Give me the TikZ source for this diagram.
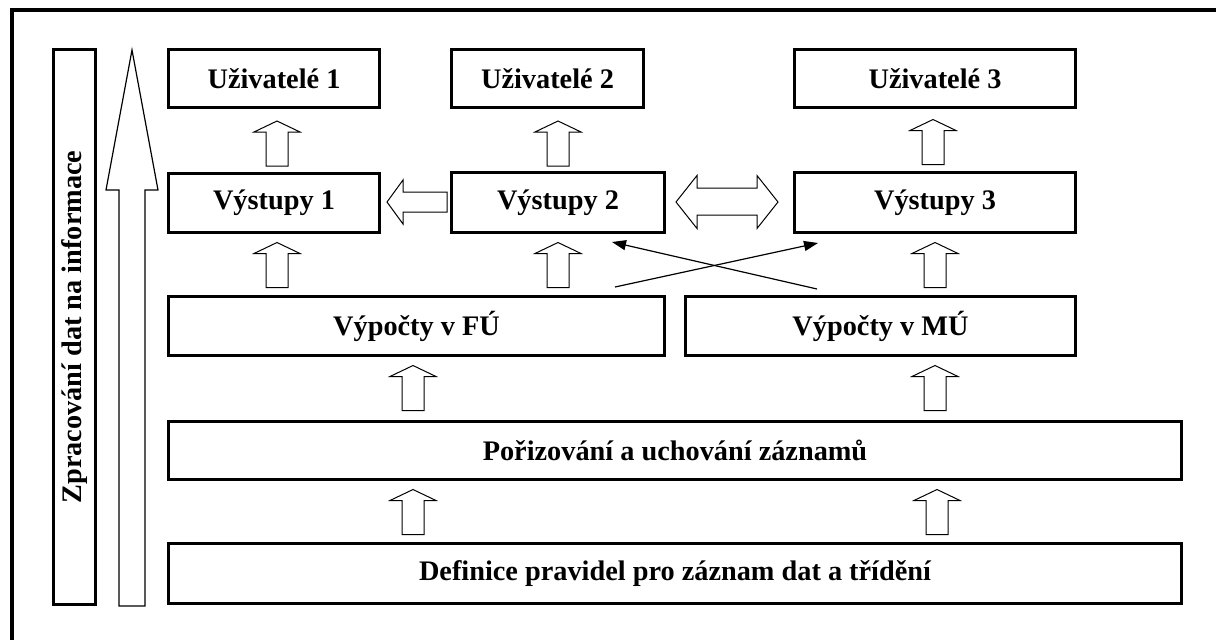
\documentclass[tikz,border=0pt]{standalone}
\usepackage{fontspec}
\setmainfont{Liberation Serif}
\usetikzlibrary{arrows.meta,calc}
\tikzset{
  box/.style={draw, line width=3pt, fill=white, inner sep=0pt,
    font=\bfseries\fontsize{28.3}{32}\selectfont},
  blk/.style={draw, line width=1pt, fill=white, line join=miter},
  link/.style={line width=1.2pt, -{Triangle[length=14pt,width=10pt]}},
  frame/.style={line width=4pt},
  pics/uparr/.style={code={
    \draw[blk] (0,-22.5) -- (23,-11.5) -- (11,-11.5) -- (11,22.5)
      -- (-11,22.5) -- (-11,-11.5) -- (-23,-11.5) -- cycle;}}
}
\begin{document}
\begin{tikzpicture}[x=1pt,y=-1pt]
\clip (0,0) rectangle (1216,640);
\fill[white] (0,0) rectangle (1216,640);
% outer frame (right and bottom sides lie outside the picture)
\draw[frame] (12,700) -- (12,10) -- (1300,10);

% boxes
\node[box, minimum width=211pt, minimum height=58pt] (U1) at (274,78.5) {Uživatelé 1};
\node[box, minimum width=192pt, minimum height=58pt] (U2) at (547.5,78.5) {Uživatelé 2};
\node[box, minimum width=281pt, minimum height=58pt] (U3) at (935,78.5) {Uživatelé 3};
\node[box, minimum width=211pt, minimum height=59pt] (V1) at (274,203) {Výstupy 1};
\node[box, minimum width=213pt, minimum height=60pt] (V2) at (558,202.5) {Výstupy 2};
\node[box, minimum width=281pt, minimum height=60pt] (V3) at (935,202.5) {Výstupy 3};
\node[box, minimum width=496pt, minimum height=59pt] (FU) at (416.5,326) {Výpočty v FÚ};
\node[box, minimum width=390pt, minimum height=59pt] (MU) at (880.5,326) {Výpočty v MÚ};
\node[box, minimum width=1013pt, minimum height=58pt] (P) at (675,450.5) {Pořizování a uchování záznamů};
\node[box, minimum width=1013pt, minimum height=60pt] (D) at (675,573.5) {Definice pravidel pro záznam dat a třídění};
\node[box, rotate=90, minimum width=555pt, minimum height=42pt] (L) at (74.5,327) {Zpracování dat na informace};

% big upward arrow
\draw[line width=1.2pt, fill=white] (132,50) -- (158,190) -- (145,190) -- (145,606)
  -- (119,606) -- (119,190) -- (106,190) -- cycle;

% block arrows
\pic at (277,143.5) {uparr};
\pic at (558,143.5) {uparr};
\pic at (933,142) {uparr};
\pic at (277,265) {uparr};
\pic at (558,265) {uparr};
\pic at (935,265) {uparr};
\pic at (413,388) {uparr};
\pic at (935,388) {uparr};
\pic at (413,512) {uparr};
\pic at (937,512) {uparr};

% left arrow V2 -> V1
\draw[blk] (387,202) -- (403,180) -- (403,192) -- (447,192) -- (447,212)
  -- (403,212) -- (403,224) -- cycle;
% double arrow V2 <-> V3
\draw[blk] (676,202) -- (697,175.5) -- (697,188) -- (757,188) -- (757,175.5)
  -- (778,202) -- (757,228.5) -- (757,215) -- (697,215) -- (697,228.5) -- cycle;

% crossing connectors
\coordinate (fuout) at ($(FU.north east)+(-51,-8)$);
\coordinate (muout) at ($(MU.north west)+(133,-6)$);
\coordinate (v3in) at ($(V3.south west)+(25,9)$);
\coordinate (v2in) at ($(V2.south east)+(-54,8)$);
\draw[link] (fuout) -- (v3in);
\draw[link] (muout) -- (v2in);
\end{tikzpicture}
\end{document}
